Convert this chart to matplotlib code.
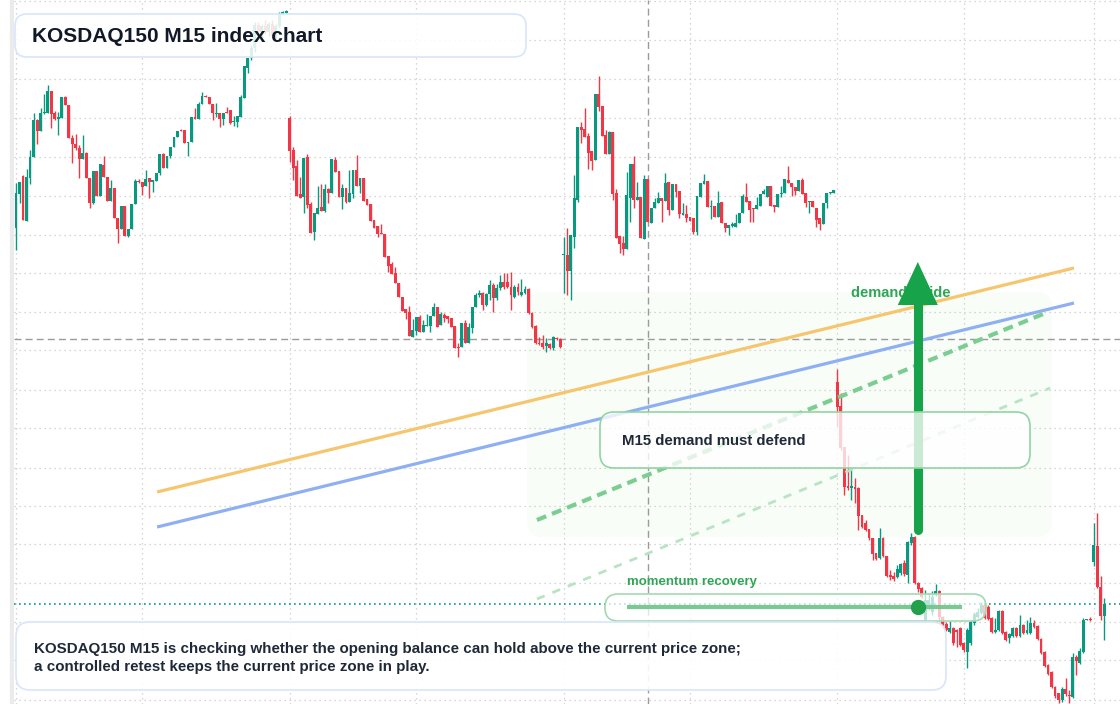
import numpy as np
import matplotlib.pyplot as plt
from matplotlib.patches import FancyBboxPatch, Polygon

plt.rcParams['font.family'] = ['Liberation Sans', 'DejaVu Sans']

# 15-minute bars, four sessions of 78 bars (last one 73) + first bars of the next
open_ = [
    772, 806, 824, 779, 822, 843, 880, 869, 887, 887, 909, 887, 881, 882, 903, 895, 862, 856, 852, 841,
    847, 822, 797, 829, 804, 835, 823, 799, 812, 782, 771, 794, 764, 771, 796, 819, 818, 814, 822, 818,
    819, 827, 846, 832, 844, 853, 863, 870, 870, 857, 858, 883, 881, 896, 904, 903, 896, 886, 887, 881,
    888, 890, 878, 878, 883, 902, 932, 942, 952, 975, 968, 974, 968, 976, 964, 974, 986, 987,
    882, 850, 834, 806, 803, 843, 796, 768, 786, 793, 789, 811, 807, 840, 829, 803, 812, 798, 806, 830,
    814, 822, 801, 796, 780, 774, 767, 766, 744, 736, 727, 717, 703, 691, 688, 663, 669, 683, 668, 674,
    674, 684, 693, 675, 685, 684, 682, 674, 653, 653, 677, 657, 672, 693, 705, 707, 695, 706, 715, 702,
    712, 718, 718, 713, 703, 713, 705, 707, 711, 687, 674, 657, 657, 654, 656, 652, 662, 661,
    745, 745, 729, 763, 800, 873, 871, 864, 849, 840, 906, 894, 865, 846, 868, 807, 764, 757, 751, 802,
    836, 800, 803, 761, 821, 777, 792, 797, 802, 799, 818, 790, 816, 809, 785, 786, 783, 782, 768, 803,
    816, 819, 793, 794, 783, 798, 777, 772, 774, 773, 777, 787, 803, 799, 792, 791, 794, 806, 803, 814,
    795, 793, 806, 807, 820, 817, 813, 809, 820, 807, 798, 799, 792, 782, 776, 797, 807, 807,
    618, 594, 553, 514, 512, 513, 512, 485, 477, 471, 462, 447, 442, 462, 444, 425, 424, 423, 427, 437,
    425, 457, 463, 417, 412, 380, 395, 388, 405, 409, 383, 376, 368, 372, 370, 372, 357, 348, 357, 377,
    383, 387, 395, 393, 382, 368, 370, 389, 368, 362, 364, 372, 364, 375, 367, 367, 377, 374, 361, 348,
    335, 328, 313, 307, 300, 311, 305, 303, 343, 337, 348, 380, 381,
    438, 454, 413, 384,
]
close = [
    807, 818, 780, 823, 843, 880, 869, 887, 888, 909, 886, 881, 883, 903, 895, 862, 856, 852, 841, 847,
    822, 797, 829, 804, 836, 823, 799, 812, 782, 771, 794, 764, 771, 796, 819, 818, 813, 821, 818, 820,
    827, 846, 832, 844, 853, 863, 869, 869, 857, 858, 883, 881, 896, 904, 903, 896, 887, 887, 881, 887,
    887, 877, 879, 884, 903, 934, 942, 952, 975, 968, 974, 968, 976, 964, 974, 986, 988, 989,
    849, 832, 804, 802, 842, 795, 767, 787, 792, 789, 811, 807, 841, 828, 803, 812, 798, 807, 830, 814,
    822, 799, 795, 779, 772, 766, 766, 743, 734, 726, 717, 703, 689, 687, 664, 670, 683, 668, 675, 675,
    684, 693, 673, 686, 682, 681, 673, 652, 652, 677, 657, 673, 693, 705, 707, 695, 706, 715, 702, 712,
    718, 713, 713, 705, 713, 708, 708, 711, 687, 673, 657, 656, 653, 657, 652, 663, 661, 653,
    746, 729, 765, 802, 873, 870, 863, 847, 839, 906, 893, 864, 846, 868, 806, 762, 756, 751, 805, 836,
    800, 803, 762, 821, 778, 792, 798, 802, 799, 817, 790, 816, 808, 786, 787, 782, 779, 768, 804, 817,
    819, 793, 794, 783, 797, 777, 772, 775, 776, 777, 787, 804, 798, 790, 791, 795, 806, 809, 814, 794,
    793, 806, 807, 821, 817, 813, 809, 820, 806, 797, 799, 793, 780, 776, 797, 807, 808, 810,
    593, 552, 513, 512, 514, 511, 484, 473, 470, 462, 446, 441, 462, 444, 424, 423, 421, 431, 436, 426,
    458, 463, 417, 411, 403, 400, 400, 403, 409, 383, 374, 370, 372, 357, 368, 355, 350, 370, 378, 386,
    388, 395, 382, 381, 368, 370, 389, 367, 360, 366, 372, 364, 375, 367, 370, 377, 373, 361, 347, 334,
    326, 313, 304, 300, 311, 306, 304, 343, 339, 349, 380, 381, 380,
    455, 413, 384, 396,
]
high = [
    817, 818, 825, 831, 850, 887, 881, 892, 906, 915, 909, 889, 888, 903, 904, 895, 865, 866, 855, 865,
    848, 822, 829, 829, 836, 844, 823, 820, 812, 782, 794, 794, 771, 796, 821, 821, 818, 830, 822, 820,
    827, 846, 847, 844, 853, 863, 869, 871, 870, 858, 883, 892, 898, 908, 905, 903, 896, 897, 887, 887,
    893, 890, 884, 884, 905, 934, 942, 955, 978, 978, 976, 980, 978, 980, 976, 988, 989, 990,
    884, 853, 840, 823, 842, 846, 798, 787, 814, 816, 816, 812, 841, 843, 829, 816, 812, 830, 830, 845,
    822, 822, 801, 796, 780, 774, 776, 766, 744, 738, 733, 717, 703, 691, 694, 681, 683, 685, 680, 686,
    684, 697, 693, 688, 687, 684, 682, 674, 657, 677, 680, 677, 693, 707, 710, 708, 707, 720, 717, 716,
    725, 727, 727, 728, 715, 717, 721, 714, 712, 688, 675, 663, 665, 662, 657, 664, 663, 662,
    763, 772, 765, 825, 873, 878, 892, 867, 849, 906, 924, 894, 870, 869, 868, 811, 764, 764, 828, 836,
    844, 818, 803, 825, 821, 792, 802, 808, 802, 827, 818, 816, 816, 809, 797, 795, 783, 782, 804, 817,
    826, 819, 800, 794, 809, 798, 777, 775, 778, 786, 787, 806, 817, 799, 792, 803, 806, 811, 814, 814,
    795, 806, 814, 821, 834, 817, 813, 820, 822, 807, 799, 799, 792, 782, 797, 807, 808, 810,
    631, 607, 553, 545, 532, 522, 513, 485, 480, 471, 462, 447, 472, 463, 444, 430, 428, 435, 437, 440,
    459, 467, 464, 418, 413, 410, 407, 409, 416, 410, 384, 378, 379, 373, 371, 373, 358, 372, 380, 388,
    392, 398, 396, 395, 383, 382, 390, 390, 369, 367, 373, 373, 385, 376, 380, 383, 380, 375, 362, 349,
    336, 329, 314, 307, 313, 322, 310, 347, 345, 352, 382, 381, 383,
    477, 487, 424, 402,
]
low = [
    750, 797, 780, 779, 816, 843, 856, 869, 886, 887, 872, 880, 865, 882, 895, 862, 837, 850, 822, 841,
    822, 792, 796, 804, 804, 823, 799, 799, 782, 757, 771, 764, 763, 771, 796, 817, 805, 814, 802, 808,
    819, 825, 832, 832, 842, 853, 863, 869, 857, 844, 858, 881, 881, 896, 903, 896, 880, 883, 873, 875,
    887, 876, 874, 873, 883, 902, 927, 940, 948, 965, 962, 966, 964, 962, 962, 972, 985, 986,
    838, 820, 804, 802, 787, 792, 767, 760, 786, 789, 788, 797, 807, 828, 803, 791, 797, 798, 802, 814,
    807, 799, 795, 779, 772, 763, 766, 743, 728, 726, 717, 703, 689, 681, 664, 663, 665, 668, 668, 674,
    668, 684, 673, 675, 678, 677, 673, 652, 643, 653, 657, 657, 667, 693, 703, 690, 694, 700, 688, 700,
    710, 711, 712, 690, 702, 705, 704, 706, 686, 672, 656, 655, 651, 648, 651, 650, 660, 652,
    707, 705, 700, 752, 798, 857, 863, 831, 830, 840, 889, 864, 846, 846, 800, 762, 747, 745, 751, 778,
    792, 800, 762, 761, 778, 777, 792, 797, 778, 799, 785, 790, 803, 782, 785, 778, 779, 766, 765, 803,
    816, 793, 781, 783, 783, 777, 768, 765, 773, 773, 777, 787, 798, 778, 778, 791, 794, 806, 803, 794,
    788, 793, 803, 807, 817, 804, 805, 809, 806, 793, 787, 793, 773, 770, 776, 792, 806, 807,
    573, 550, 505, 510, 500, 497, 470, 472, 469, 460, 440, 440, 441, 443, 423, 420, 419, 422, 425, 424,
    417, 455, 416, 408, 402, 377, 390, 385, 404, 380, 372, 369, 367, 355, 353, 354, 348, 332, 355, 375,
    382, 386, 381, 380, 367, 367, 369, 366, 359, 357, 363, 363, 363, 366, 366, 366, 372, 360, 346, 333,
    325, 312, 302, 297, 298, 304, 297, 302, 325, 336, 347, 380, 379,
    434, 412, 380, 360,
]

session_bars = [0, 78, 156, 234, 307]
mid_bars = [36, 114, 192, 270]
price_grid = [999, 960, 921, 882, 843, 804, 765, 727, 688, 650, 610, 572, 532, 494, 456, 417, 378, 340, 300]

last_price = 396
cross_price = 661
cross_bar = 180

# overlays (bar index, price)
upper_band_x, upper_band_y = [40.2, 301.4], [508, 732]
lower_band_x, lower_band_y = [40.2, 301.4], [473, 697]
guide_x, guide_y = [148.4, 294.0], [480, 688]
guide2_x, guide2_y = [148.4, 294.6], [401, 612]
zone_bars = (145.6, 295.2)
zone_prices = (463, 708)
arrow_bar = 256.9
arrow_from, arrow_to = 470, 738

title = "KOSDAQ150 M15 index chart"
zone_text = "M15 demand must defend"
guide_text = "demand guide"
momentum_text = "momentum recovery"
note = ["KOSDAQ150 M15 is checking whether the opening balance can hold above the current price zone;",
        "a controlled retest keeps the current price zone in play."]

UP, DOWN = '#089981', '#f23645'

fig = plt.figure(figsize=(11.2, 7.04), dpi=100)
fig.patch.set_facecolor('white')
ax = fig.add_axes([14 / 1120, 0, 1 - 14 / 1120, 1])
ax.set_xlim(-0.57, 314.5)
ax.set_ylim(296, 1000)
for s in ax.spines.values():
    s.set_visible(False)
ax.set_xticks(sorted(session_bars + mid_bars))
ax.set_yticks(price_grid)
ax.tick_params(length=0, labelbottom=False, labelleft=False)
ax.set_axisbelow(True)
ax.grid(True, linestyle=(0, (1, 3)), color='#c9c9c9', lw=0.9)

# demand zone
zone = FancyBboxPatch((zone_bars[0], zone_prices[0]), zone_bars[1] - zone_bars[0],
                      zone_prices[1] - zone_prices[0],
                      boxstyle="round,pad=0,rounding_size=4.5", mutation_aspect=3.51,
                      fc='#f8fdf8', ec='none', zorder=0.5)
ax.add_patch(zone)

# crosshair + last price
ax.axhline(cross_price, color='#9b9b9b', lw=1, ls=(0, (5, 3)), zorder=1)
ax.axvline(cross_bar, color='#9b9b9b', lw=1, ls=(0, (5, 3)), zorder=1)
ax.axhline(last_price, color=UP, lw=1.2, ls=(0, (1, 2)), zorder=1)

# candles
o = np.array(open_, float)
c = np.array(close, float)
h = np.array(high, float)
l = np.array(low, float)
x = np.arange(len(o))
col = np.where(c >= o, UP, DOWN)
ax.vlines(x, l, h, colors=col, lw=1.0, zorder=2)
ax.bar(x, np.maximum(np.abs(c - o), 1.5), bottom=np.minimum(o, c), width=0.82,
       color=col, lw=0, zorder=3)

# trend lines
ax.plot(upper_band_x, upper_band_y, color='#f6c66e', lw=2.3, solid_capstyle='butt', zorder=4)
ax.plot(lower_band_x, lower_band_y, color='#8eb0f2', lw=2.3, solid_capstyle='butt', zorder=4)
ax.plot(guide_x, guide_y, color='#7bcd92', lw=3, dashes=(2.4, 1.5), zorder=4)
ax.plot(guide2_x, guide2_y, color='#b8e4c4', lw=2, dashes=(3, 3), zorder=4)

# demand guide label + arrow
ax.text(238.0, 707, guide_text, color='#2ea655', fontsize=10.5, fontweight='bold',
        va='center', ha='left', zorder=4.5)
ax.plot([arrow_bar, arrow_bar], [arrow_from, arrow_to - 40], color='#17a34a', lw=6.5,
        solid_capstyle='round', zorder=5)
ax.add_patch(Polygon([[arrow_bar - 5.7, arrow_to - 43], [arrow_bar + 5.7, arrow_to - 43],
                      [arrow_bar, arrow_to]], closed=True, fc='#17a34a', ec='none', zorder=5))

# overlay in pixel coordinates for the annotation boxes
ov = fig.add_axes([0, 0, 1, 1])
ov.set_xlim(0, 1120)
ov.set_ylim(704, 0)
ov.axis('off')
ov.patch.set_alpha(0)


def rbox(x0, y0, w, hgt, r, fc, ec, lw=1.2, z=3):
    ov.add_patch(FancyBboxPatch((x0, y0), w, hgt, boxstyle=f"round,pad=0,rounding_size={r}",
                                fc=fc, ec=ec, lw=lw, zorder=z))


fig.add_artist(plt.Rectangle((10 / 1120, 0), 4 / 1120, 1, transform=fig.transFigure,
                             color='#ebebeb', zorder=0))

rbox(15, 14, 511, 43, 12, (1, 1, 1, 0.86), '#d8e5fb')
ov.text(32, 36.5, title, fontsize=15, fontweight='bold', color='#111827', va='center', zorder=4)

rbox(600, 412, 430, 56, 14, (1, 1, 1, 0.78), '#93d4a3')
ov.text(622, 441, zone_text, fontsize=10.8, fontweight='bold', color='#1f2937', va='center', zorder=4)

ov.text(627, 582, momentum_text, fontsize=9.5, fontweight='bold', color='#2ea655', va='center', zorder=4)
rbox(605, 594, 381, 27, 13, (1, 1, 1, 0.72), '#a3d9b1')
ov.plot([627, 962], [607, 607], color='#6cc487', lw=3, solid_capstyle='butt', zorder=4, alpha=0.9)
ov.plot([918], [607], 'o', ms=10, color='#22a04b', zorder=5)

rbox(16, 622, 930, 68, 14, (1, 1, 1, 0.9), '#d8e5fb')
ov.text(34, 648.5, note[0], fontsize=10.9, fontweight='bold', color='#1f2937', va='center', zorder=4)
ov.text(34, 667.5, note[1], fontsize=10.9, fontweight='bold', color='#1f2937', va='center', zorder=4)

fig.savefig('out.png', dpi=100)
